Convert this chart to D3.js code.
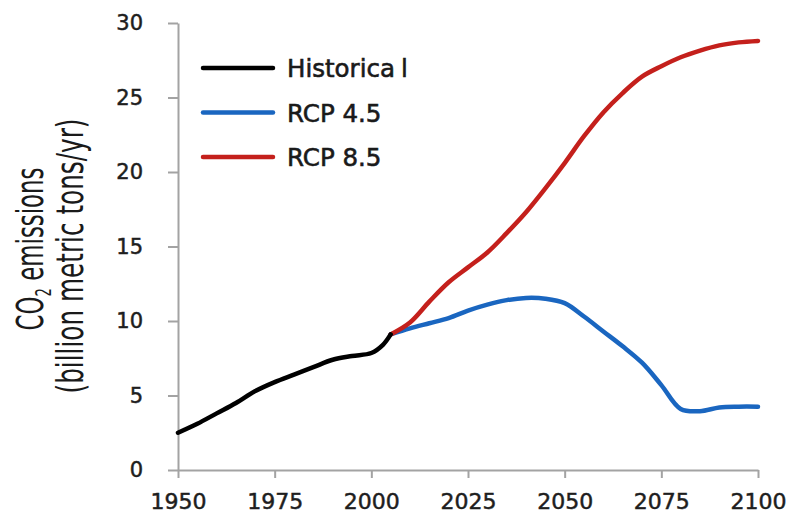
<!DOCTYPE html>
<html>
<head>
<meta charset="utf-8">
<script src="https://cdn.jsdelivr.net/npm/d3@7"></script>
<style>
  body { margin: 0; background: #fff; }
  svg { display: block; }
</style>
</head>
<body>
<svg id="chart" width="786" height="514"></svg>
<script>
// values (billion metric tons CO2 per year)
const historicalYears = [1950, 1955, 1960, 1965, 1970, 1975, 1980, 1985, 1990, 1995, 2000, 2003, 2005];
const historicalValues = [2.5, 3.1, 3.8, 4.5, 5.3, 5.9, 6.4, 6.9, 7.4, 7.65, 7.85, 8.4, 9.1];

const rcpYears = [2005, 2010, 2015, 2020, 2025, 2030, 2035, 2040, 2045, 2050, 2055, 2060, 2065, 2070, 2075, 2080, 2085, 2090, 2095, 2100];
const rcp45Values = [9.1, 9.5, 9.85, 10.2, 10.7, 11.1, 11.4, 11.55, 11.5, 11.2, 10.3, 9.3, 8.3, 7.2, 5.7, 4.1, 3.95, 4.2, 4.25, 4.25];
const rcp85Values = [9.1, 9.9, 11.3, 12.6, 13.6, 14.6, 15.9, 17.3, 18.9, 20.6, 22.4, 24.0, 25.3, 26.4, 27.1, 27.7, 28.15, 28.5, 28.7, 28.8];

const xTicks = [1950, 1975, 2000, 2025, 2050, 2075, 2100];
const yTicks = [0, 5, 10, 15, 20, 25, 30];

const seriesNames = ['Historical', 'RCP 4.5', 'RCP 8.5'];
const seriesColors = ['#000000', '#1a66c0', '#c4201c'];

const svg = d3.select('#chart');
const margin = { top: 23, left: 178, right: 28, bottom: 44 };
const width = 786 - margin.left - margin.right;
const height = 514 - margin.top - margin.bottom;

const x = d3.scaleLinear().domain([1950, 2100]).range([0, width]);
const y = d3.scaleLinear().domain([0, 30]).range([height, 0]);

const g = svg.append('g')
  .attr('transform', `translate(${margin.left},${margin.top})`);

const tickFont = 'DejaVu Sans, Verdana, sans-serif';

// axes
const xAxis = g.append('g')
  .attr('transform', `translate(0,${height})`)
  .call(d3.axisBottom(x).tickValues(xTicks).tickFormat(d3.format('d'))
    .tickSize(8).tickSizeOuter(0).tickPadding(15));
const yAxis = g.append('g')
  .call(d3.axisLeft(y).tickValues(yTicks).tickSize(10).tickSizeOuter(0).tickPadding(25));

[xAxis, yAxis].forEach(axis => {
  axis.select('.domain').attr('stroke', '#a3a3a3').attr('stroke-width', 2);
  axis.selectAll('.tick line').attr('stroke', '#a3a3a3').attr('stroke-width', 2);
  axis.selectAll('.tick text')
    .attr('fill', '#1e1e1e')
    .attr('stroke', '#1e1e1e')
    .attr('stroke-width', 0.5)
    .style('font-family', tickFont);
});
xAxis.selectAll('.tick text').style('font-size', '22px');
yAxis.selectAll('.tick text').style('font-size', '21px');

// series
const line = d3.line()
  .x(d => x(d[0]))
  .y(d => y(d[1]))
  .curve(d3.curveCatmullRom.alpha(0.5));

const series = [
  d3.zip(historicalYears, historicalValues),
  d3.zip(rcpYears, rcp45Values),
  d3.zip(rcpYears, rcp85Values)
];

g.selectAll('path.series')
  .data([1, 2, 0])
  .enter().append('path')
    .classed('series', true)
    .attr('fill', 'none')
    .attr('stroke', i => seriesColors[i])
    .attr('stroke-width', 4.5)
    .attr('stroke-linecap', 'round')
    .attr('stroke-linejoin', 'round')
    .attr('d', i => line(series[i]));

// legend
const legend = svg.append('g').attr('transform', 'translate(203,68)');
const items = legend.selectAll('g')
  .data(seriesNames)
  .enter().append('g')
    .attr('transform', (d, i) => `translate(0,${i * 44.5})`);
items.append('line')
  .attr('x1', 0).attr('x2', 70)
  .attr('stroke', (d, i) => seriesColors[i])
  .attr('stroke-width', 4.5)
  .attr('stroke-linecap', 'round');
items.append('text')
  .attr('x', 84)
  .attr('y', 9)
  .attr('fill', '#1a1a1a')
  .attr('stroke', '#1a1a1a')
  .attr('stroke-width', 0.6)
  .style('font-family', tickFont)
  .style('font-size', '24.5px')
  .each(function(d) {
    const t = d3.select(this);
    if (d === 'Historical') {
      t.append('tspan').text('Historica');
      t.append('tspan').attr('dx', 6).text('l');
    } else {
      t.text(d);
    }
  });

// y axis title
const titleFont = '"Liberation Sans Narrow", "DejaVu Sans Condensed", sans-serif';
const t1 = svg.append('text')
  .attr('transform', 'translate(43,249) rotate(-90)')
  .attr('text-anchor', 'middle')
  .attr('fill', '#1a1a1a')
  .style('font-family', titleFont)
  .style('font-size', '38px')
  .attr('textLength', 163)
  .attr('lengthAdjust', 'spacingAndGlyphs');
t1.append('tspan').text('CO');
t1.append('tspan').attr('dy', 8).style('font-size', '22px').text('2');
t1.append('tspan').attr('dy', -8).text(' emissions');

svg.append('text')
  .attr('transform', 'translate(83,256) rotate(-90)')
  .attr('text-anchor', 'middle')
  .attr('fill', '#1a1a1a')
  .style('font-family', titleFont)
  .style('font-size', '38px')
  .attr('textLength', 275)
  .attr('lengthAdjust', 'spacingAndGlyphs')
  .text('(billion metric tons/yr)');
</script>
</body>
</html>
